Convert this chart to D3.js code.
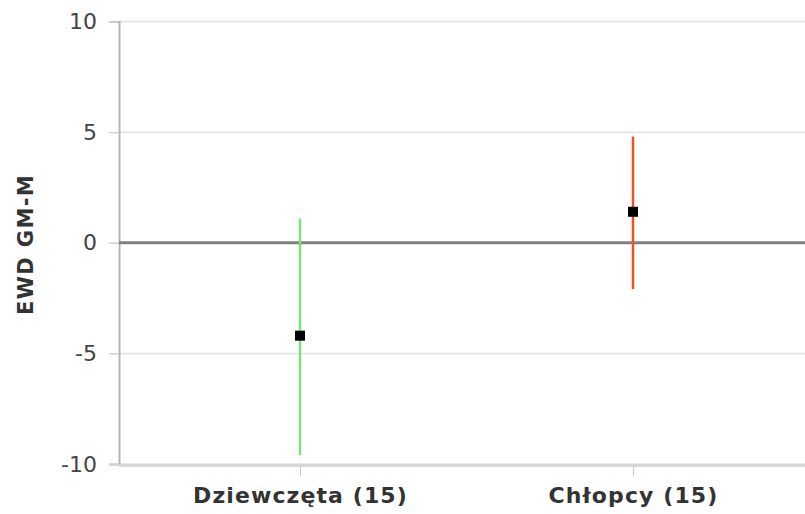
<!DOCTYPE html>
<html><head><meta charset="utf-8">
<script src="https://cdn.jsdelivr.net/npm/d3@7"></script>
<style>body{margin:0;background:#fff;overflow:hidden}text{font-family:"DejaVu Sans",Verdana,sans-serif}</style>
</head><body>
<svg id="c" width="805" height="514"></svg>
<script>
const categories = ["Dziewczęta (15)", "Chłopcy (15)"];
const means = [-4.2, 1.4];
const lows = [-9.6, -2.1];
const highs = [1.1, 4.8];
const colors = ["#7ddf7d", "#f4511e"];
const yTicks = [-10, -5, 0, 5, 10];
const yTitle = "EWD GM-M";

(function(){
const svg = d3.select("#c");
const pL = 119, pR = 814, pT = 21.5, pB = 464;
const x = d3.scalePoint().domain(categories).range([pL, pR]).padding(0.5435);
const y = d3.scaleLinear().domain([-10, 10]).range([pB, pT]);
const ff = "DejaVu Sans, Verdana, sans-serif";

// grid
svg.append("g").selectAll("line").data(yTicks).join("line")
  .attr("x1", pL).attr("x2", 805).attr("y1", d => y(d)).attr("y2", d => y(d))
  .attr("stroke", "#e0e0e0").attr("stroke-width", 1.5);

// y axis
const ya = svg.append("g").attr("transform", `translate(${pL},0)`)
  .call(d3.axisLeft(y).tickValues(yTicks).tickSize(10).tickPadding(12).tickFormat(d => String(d)));
ya.select(".domain").attr("stroke", "#b5b5b5").attr("stroke-width", 2);
ya.selectAll(".tick line").attr("stroke", "#d0d0d0").attr("stroke-width", 1.5);
ya.selectAll(".tick text").attr("font-size", 22).attr("fill", "#444").style("font-family", ff);

// x axis
const xa = svg.append("g").attr("transform", `translate(0,${pB})`)
  .call(d3.axisBottom(x).tickSize(12).tickPadding(11));
xa.select(".domain").attr("stroke", "#d6d6d6").attr("stroke-width", 3).attr("d", `M${pL},1.5H805`);
xa.selectAll(".tick line").attr("stroke", "#c8c8c8").attr("stroke-width", 1).attr("y1", 3);
xa.selectAll(".tick text").attr("font-size", 22).attr("font-weight", "bold").attr("fill", "#333")
  .attr("letter-spacing", 1.1).style("font-family", ff);

// zero line
svg.append("line").attr("x1", pL).attr("x2", 805).attr("y1", y(0)).attr("y2", y(0))
  .attr("stroke", "#808080").attr("stroke-width", 3);

// error bars
const data = categories.map((c, i) => ({c, m: means[i], lo: lows[i], hi: highs[i], col: colors[i]}));
svg.append("g").selectAll("line").data(data).join("line")
  .attr("x1", d => x(d.c)).attr("x2", d => x(d.c))
  .attr("y1", d => y(d.lo)).attr("y2", d => y(d.hi))
  .attr("stroke", d => d.col).attr("stroke-width", 2.5);
svg.append("g").selectAll("rect").data(data).join("rect")
  .attr("x", d => x(d.c) - 5).attr("y", d => y(d.m) - 5)
  .attr("width", 10).attr("height", 10).attr("fill", "#000");

// y title
svg.append("text").attr("transform", `translate(33,244.5) rotate(-90)`)
  .attr("text-anchor", "middle").attr("font-size", 21).attr("font-weight", "bold").attr("fill", "#333")
  .attr("letter-spacing", 1.4).style("font-family", ff)
  .text(yTitle);
})();
</script>
</body></html>
